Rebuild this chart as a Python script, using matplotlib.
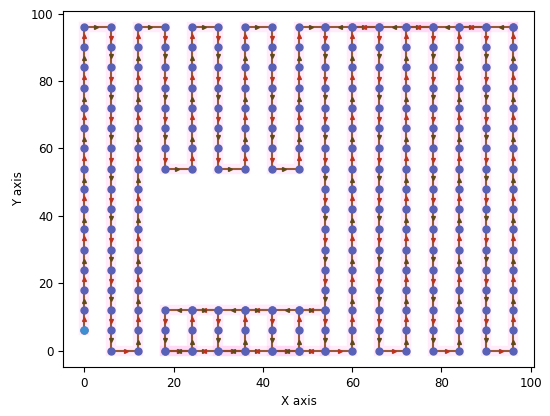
import numpy as np
import matplotlib
matplotlib.use("Agg")
import matplotlib.pyplot as plt

CELL = 6

# Main coverage path (corner waypoints)
path_x = [0, 0, 6, 6, 12, 12, 18, 18, 24, 24, 30, 30, 36, 36, 42, 42, 48, 48,
          54, 54, 18, 18, 24, 24, 30, 30, 36, 36, 42, 42, 48, 48, 54, 54,
          60, 60, 66, 66, 72, 72, 78, 78, 84, 84, 90, 90, 96, 96]
path_y = [6, 96, 96, 0, 0, 96, 96, 54, 54, 96, 96, 54, 54, 96, 96, 54, 54, 96,
          96, 12, 12, 0, 0, 12, 12, 0, 0, 12, 12, 0, 0, 12, 12, 0,
          0, 96, 96, 0, 0, 96, 96, 0, 0, 96, 96, 0, 0, 96]

# Return leg along the top and link along the bottom of the lower pocket
ret_x = [96, 54]
ret_y = [96, 96]
link_x = [18, 54]
link_y = [0, 0]

plt.rcParams['font.size'] = 8.6
fig = plt.figure(figsize=(5.5, 4.16), dpi=100)
ax = fig.add_axes([0.1145, 0.118, 0.857, 0.856])


def expand(xs, ys):
    pts = [(xs[0], ys[0])]
    for i in range(1, len(xs)):
        x0, y0 = pts[-1]
        x1, y1 = xs[i], ys[i]
        n = int(round(max(abs(x1 - x0), abs(y1 - y0)) / CELL))
        for k in range(1, n + 1):
            pts.append((x0 + (x1 - x0) * k / n, y0 + (y1 - y0) * k / n))
    return np.array(pts)


paths = [expand(path_x, path_y), expand(ret_x, ret_y), expand(link_x, link_y)]
rev_link = expand(link_x[::-1], link_y[::-1])

# pink band
for p in paths:
    ax.plot(p[:, 0], p[:, 1], color='#ff66dd', alpha=0.13, lw=7.5,
            solid_capstyle='projecting', solid_joinstyle='miter', zorder=1)

# path lines
for p in paths:
    ax.plot(p[:, 0], p[:, 1], color='#8a4a24', lw=1.5, alpha=0.9, zorder=2)

# arrowheads
mk = {(1, 0): '>', (-1, 0): '<', (0, 1): '^', (0, -1): 'v'}
cnt = 0
for p in paths + [rev_link]:
    for i in range(len(p) - 1):
        d = p[i + 1] - p[i]
        key = (int(np.sign(d[0])), int(np.sign(d[1])))
        col = '#b8341e' if cnt % 2 == 0 else '#5e4a18'
        f = 0.55 if cnt % 2 == 0 else 0.45
        m = p[i] + d * f
        ax.plot(m[0], m[1], marker=mk[key], ms=2.8, color=col, mec=col,
                ls='none', zorder=3)
        cnt += 1

# nodes
allpts = np.vstack(paths)
ax.plot(allpts[:, 0], allpts[:, 1], 'o', ms=5, color='#5861b6', mec='#5861b6',
        ls='none', zorder=4)
ax.plot([path_x[0]], [path_y[0]], 'o', ms=5, color='#3d8fd0', zorder=5)

ax.set_xlim(-4.8, 100.8)
ax.set_ylim(-4.8, 100.8)
ax.set_xticks([0, 20, 40, 60, 80, 100])
ax.set_yticks([0, 20, 40, 60, 80, 100])
ax.set_xlabel('X axis')
ax.set_ylabel('Y axis')

fig.savefig('out.png', dpi=100)
